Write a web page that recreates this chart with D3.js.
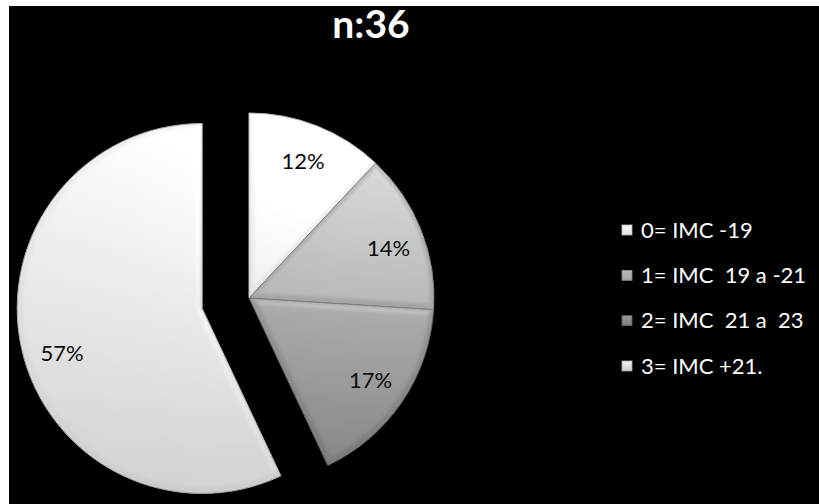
<!DOCTYPE html>
<html><head><meta charset="utf-8">
<script src="https://cdn.jsdelivr.net/npm/d3@7"></script>
<style>body{margin:0;background:#fff}svg{display:block}</style>
</head><body>
<script>
const categories = ["0= IMC -19", "1= IMC  19 a -21", "2= IMC  21 a  23", "3= IMC +21."];
const values = [12, 14, 17, 57];
const labels = ["12%", "14%", "17%", "57%"];
const title = "n:36";

const W = 819, H = 504;
const svg = d3.select("body").append("svg").attr("width", W).attr("height", H);
svg.append("rect").attr("x", 9).attr("y", 6).attr("width", W - 9).attr("height", H - 6).attr("fill", "#000");

const defs = svg.append("defs");
const grads = [
  ["#fbfbfb", "#e4e4e4"],
  ["#bcbcbc", "#a4a4a4"],
  ["#9a9a9a", "#7a7a7a"],
  ["#f3f3f3", "#cccccc"]
];
grads.forEach((g, i) => {
  const lg = defs.append("linearGradient").attr("id", "g" + i)
    .attr("x1", 0).attr("y1", 0).attr("x2", 0).attr("y2", 1);
  lg.append("stop").attr("offset", "0%").attr("stop-color", g[0]);
  lg.append("stop").attr("offset", "100%").attr("stop-color", g[1]);
});
const f = defs.append("filter").attr("id", "bevel").attr("x", "-5%").attr("y", "-5%").attr("width", "110%").attr("height", "110%");
f.append("feGaussianBlur").attr("in", "SourceAlpha").attr("stdDeviation", 3).attr("result", "blur");
f.append("feSpecularLighting").attr("in", "blur").attr("surfaceScale", 3).attr("specularConstant", 0.6)
  .attr("specularExponent", 14).attr("lighting-color", "#fff").attr("result", "spec")
  .append("fePointLight").attr("x", 150).attr("y", -200).attr("z", 300);
f.append("feComposite").attr("in", "spec").attr("in2", "SourceAlpha").attr("operator", "in").attr("result", "specOut");
f.append("feComposite").attr("in", "SourceGraphic").attr("in2", "specOut").attr("operator", "arithmetic")
  .attr("k1", 0).attr("k2", 1).attr("k3", 0.35).attr("k4", 0);

const cx = 249, cy = 298, R = 185, explode = 48;
const pie = d3.pie().sort(null).value(d => d)(values);
const arc = d3.arc().innerRadius(0).outerRadius(R);
const labelArc = d3.arc().innerRadius(147).outerRadius(147);
const font = "Lato, 'Open Sans', sans-serif";

const g = svg.append("g").attr("transform", `translate(${cx},${cy})`);
pie.forEach((p, i) => {
  const mid = (p.startAngle + p.endAngle) / 2;
  const off = i === 3 ? explode : 0;
  const tx = Math.sin(mid) * off, ty = -Math.cos(mid) * off;
  const sg = g.append("g").attr("transform", `translate(${tx},${ty})`);
  sg.append("path").attr("d", arc(p)).attr("fill", `url(#g${i})`)
    .attr("stroke", d3.color(grads[i][1]).darker(0.6)).attr("stroke-width", 1)
    .attr("filter", "url(#bevel)");
  // label angle nudged toward the slice's lower part for the exploded slice (as in the original)
  const la = i === 3 ? mid - 0.09 : mid;
  const lr = i === 1 ? 150 : 147;
  const lx = Math.sin(la) * lr, ly = -Math.cos(la) * lr;
  sg.append("text").attr("x", lx).attr("y", ly + (i === 1 ? 6 : 0)).attr("dy", "0.35em")
    .attr("text-anchor", "middle").attr("font-family", font)
    .attr("font-size", 22).attr("fill", "#0a0a0a").text(labels[i]);
});

svg.append("text").attr("x", 371).attr("y", 38).attr("text-anchor", "middle")
  .attr("font-family", font).attr("font-weight", "bold")
  .attr("font-size", 39).attr("fill", "#fff").text(title);

const legY = d3.scalePoint().domain(categories).range([230, 366]);
const leg = svg.append("g");
categories.forEach((c, i) => {
  const y = legY(c);
  leg.append("rect").attr("x", 622).attr("y", y - 5).attr("width", 10).attr("height", 10)
    .attr("fill", `url(#g${i})`).attr("stroke", d3.color(grads[i][1]).darker(0.5)).attr("stroke-width", 0.8);
  leg.append("text").attr("x", 641).attr("y", y).attr("dy", "0.35em")
    .attr("font-family", font).attr("font-size", 22)
    .attr("fill", "#fff").attr("xml:space", "preserve").style("white-space", "pre").text(c);
});
</script>
</body></html>
